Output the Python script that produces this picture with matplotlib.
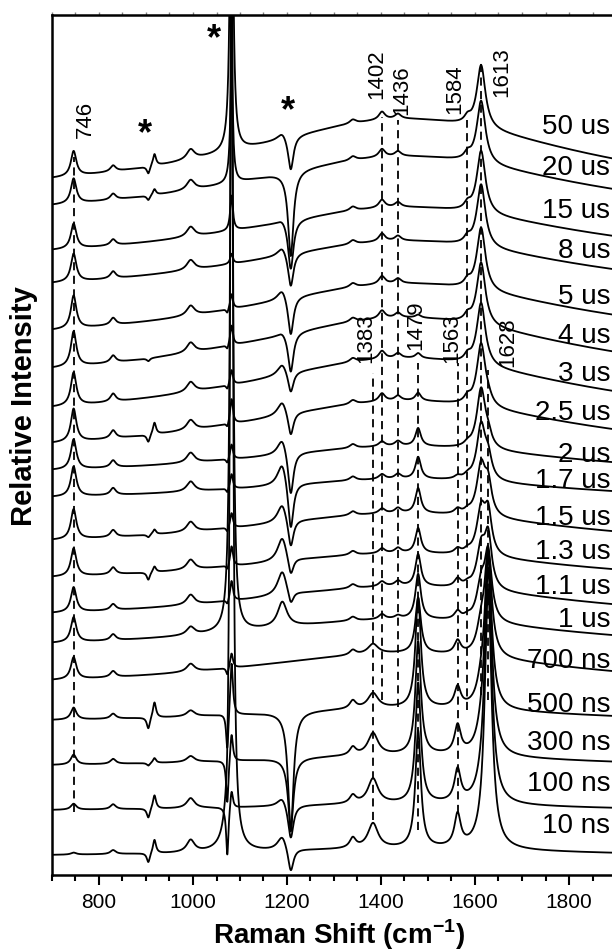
import matplotlib
matplotlib.use('Agg')
import matplotlib.pyplot as plt
import numpy as np

plt.rcParams['font.family'] = ['Liberation Sans', 'DejaVu Sans']
plt.rcParams['mathtext.fontset'] = 'custom'
plt.rcParams['mathtext.rm'] = 'Liberation Sans:bold'
plt.rcParams['mathtext.bf'] = 'Liberation Sans:bold'

# delay times, top trace first
labels = ['50 us', '20 us', '15 us', '8 us', '5 us', '4 us', '3 us', '2.5 us',
          '2 us', '1.7 us', '1.5 us', '1.3 us', '1.1 us', '1 us',
          '700 ns', '500 ns', '300 ns', '100 ns', '10 ns']

# stacking offset of each spectrum (level at 700 cm-1) and broad background
base = [697, 670, 625, 592, 545, 507, 468, 432, 405, 378, 335, 298, 262, 232,
        195, 155, 110, 65, 20]
bg_amp = [80, 66, 58, 57, 63, 68, 66, 57, 32, 24, 36, 32, 36, 32, 36, 16, 13, 8, 8]

# band positions (cm-1) and half widths
band_pos = [746, 830, 905, 918, 995, 1073, 1082, 1190, 1208, 1340, 1383, 1402,
            1436, 1479, 1563, 1584, 1613, 1628]
band_hw = [7, 7, 4, 4, 10, 3, 3.5, 12, 7, 8, 13, 8, 8, 7, 8, 8, 11, 9]

# band amplitudes per trace (top -> bottom)
a746 = [25, 25, 25, 28, 33, 35, 33, 33, 30, 30, 30, 28, 25, 25, 22, 12, 10, 6, 2]
a830 = [6, 6, 6, 7, 7, 7, 8, 8, 7, 7, 7, 7, 6, 6, 6, 5, 5, 5, 4]
a905 = [-8, -5, 0, 0, 0, -3, 0, -8, 0, 0, -3, -8, 0, 0, 0, -12, -3, -10, -10]
a918 = [12, 6, 0, 0, 0, 0, 0, 12, 0, 0, 5, 6, 0, 0, 0, 16, 5, 14, 14]
a995 = [10, 10, 10, 10, 10, 10, 10, 10, 10, 10, 10, 10, 10, 8, 8, 6, 6, 10, 12]
a1073 = [0, 0, 0, 0, -5, -5, -5, -5, -5, -5, -5, -5, -5, 0, -8, -40, -45, -50, -25]
a1082 = [400, 110, 35, 10, 15, 20, 15, 25, 15, 15, 15, 20, 20, 700, 15, 55, 30, 20, 1000]
a1190 = [8, 0, 5, 10, 12, 5, 12, 15, 18, 25, 20, 25, 25, 25, 0, 0, 0, 10, 15]
a1208 = [-35, -85, -50, -35, -40, -40, -22, -25, -45, -50, -30, -20, -15, 0, 0,
         -120, -70, -35, -25]
a1340 = [4, 4, 4, 4, 4, 4, 4, 4, 4, 4, 4, 4, 4, 4, 5, 8, 8, 8, 10]
a1383 = [0, 0, 0, 0, 0, 0, 0, 0, 0, 0, 0, 0, 0, 0, 10, 15, 22, 25, 25]
a1402 = [8, 8, 8, 8, 8, 8, 8, 8, 5, 5, 5, 5, 5, 5, 0, 0, 0, 0, 0]
a1436 = [5, 5, 5, 5, 5, 5, 5, 5, 5, 5, 5, 5, 5, 3, 0, 0, 0, 0, 0]
a1479 = [0, 0, 0, 0, 0, 3, 5, 8, 18, 22, 25, 25, 32, 45, 55, 110, 113, 120, 117]
a1563 = [0, 0, 0, 0, 0, 0, 0, 0, 0, 3, 5, 5, 8, 8, 13, 20, 28, 32, 32]
a1584 = [6, 6, 6, 6, 6, 6, 6, 6, 3, 3, 3, 3, 3, 3, 0, 0, 0, 0, 0]
a1613 = [63, 63, 63, 63, 63, 63, 63, 63, 60, 55, 50, 45, 40, 35, 25, 15, 10, 5, 0]
a1628 = [0, 0, 0, 0, 0, 0, 0, 5, 10, 20, 30, 40, 50, 65, 100, 150, 200, 235, 260]

amps = [a746, a830, a905, a918, a995, a1073, a1082, a1190, a1208, a1340, a1383,
        a1402, a1436, a1479, a1563, a1584, a1613, a1628]

# marked peaks: dashed guide lines and their labels
peak_x = [746, 1383, 1402, 1436, 1479, 1563, 1584, 1613, 1628]
peak_lo = [63, 55, 175, 168, 45, 62, 165, 180, 175]
peak_hi = [718, 502, 758, 755, 512, 512, 755, 812, 505]
peak_lab_x = [770, 1368, 1391, 1445, 1474, 1551, 1557, 1657, 1670]
peak_lab_y = [756, 537, 801, 785, 550, 537, 786, 803, 533]

label_y = [748, 707, 664, 624, 578, 539, 501, 462, 420, 394, 357, 323, 288, 255,
           214, 170, 132, 91, 49]


def lor(x, c, w):
    return 1.0 / (1.0 + ((x - c) / w) ** 2)


x = np.linspace(700, 1950, 6000)

fig = plt.figure(figsize=(6.12, 9.5), dpi=100)
ax = fig.add_axes([52 / 612, 75 / 950, 587.5 / 612, 860 / 950])

for i in range(len(labels)):
    y = base[i] + bg_amp[i] * (lor(x, 1450, 450) - lor(700, 1450, 450))
    for c, w, a in zip(band_pos, band_hw, amps):
        y = y + a[i] * lor(x, c, w)
    ax.plot(x, y, color='black', lw=1.3)
    ax.text(1888, label_y[i], labels[i], ha='right', va='center', fontsize=20)

for px, lo, hi in zip(peak_x, peak_lo, peak_hi):
    ax.plot([px, px], [lo, hi], color='black', lw=1.3, linestyle=(0, (4.5, 3)))

for px, lx, ly in zip(peak_x, peak_lab_x, peak_lab_y):
    ax.text(lx, ly, str(px), rotation=90, ha='center', va='center', fontsize=16)

for sx, sy in [(897, 740), (1044, 835), (1202, 763)]:
    ax.text(sx, sy, '*', ha='center', va='center', fontsize=26, fontweight='bold')

ax.set_xlim(700, 1950)
ax.set_ylim(0, 860)
ax.set_xticks([800, 1000, 1200, 1400, 1600, 1800])
ax.set_xticks(np.arange(700, 1951, 50), minor=True)
ax.set_yticks([])
ax.tick_params(axis='x', which='major', direction='out', length=7, width=1.5,
               labelsize=15, pad=6)
ax.tick_params(axis='x', which='minor', direction='out', length=4, width=1.5)
for s in ax.spines.values():
    s.set_linewidth(1.8)

# small ticks on the top frame
top = ax.secondary_xaxis('top')
top.set_xticks(np.arange(700, 1951, 50))
top.tick_params(direction='out', length=2, width=1, labeltop=False, colors='0.5')
top.spines['top'].set_visible(False)

ax.set_xlabel('Raman Shift (cm$^{\\mathbf{-1}}$)', fontsize=20, fontweight='bold')
ax.xaxis.set_label_coords(287 / 587.5, -0.049)
ax.set_ylabel('Relative Intensity', fontsize=21, fontweight='bold')
ax.yaxis.set_label_coords(-0.024, 0.545)

fig.savefig('out.png', dpi=100)
